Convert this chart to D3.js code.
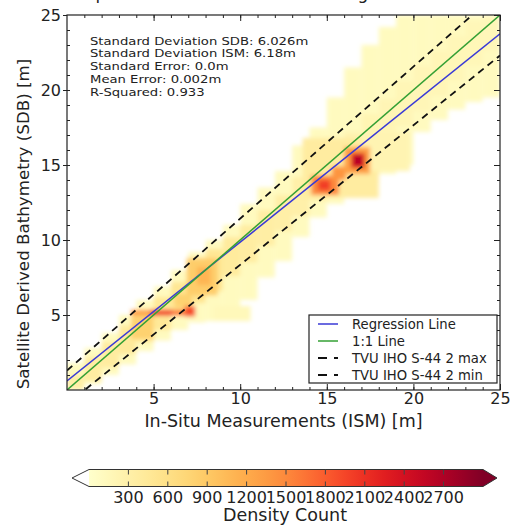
<!DOCTYPE html>
<html>
<head>
<meta charset="utf-8">
<script src="https://cdn.jsdelivr.net/npm/d3@7"></script>
<style>
  body { margin: 0; background: #fff; }
  text { font-family: "DejaVu Sans", sans-serif; fill: #222; }
</style>
</head>
<body>
<div id="chart"></div>
<script>
// ---- data ----
// 2D histogram, 1 m columns: pale envelope and the denser core band
const colX = [0, 1, 2, 3, 4, 5, 6, 7, 8, 9, 10, 11, 12, 13, 14, 15, 16, 17, 18, 19, 20, 21, 22, 23, 24];
const paleLo = [0, 0.4, 1.0, 1.7, 2.6, 3.3, 4.0, 4.5, 4.6, 4.6, 6.0, 7.5, 8.6, 10.2, 11.5, 12.4, 13.0, 13.8, 14.4, 15.0, 17.2, 18.0, 18.7, 19.2, 19.5];
const paleHi = [1.8, 2.8, 3.8, 5.0, 6.0, 6.9, 8.0, 9.2, 10.0, 11.0, 12.4, 13.5, 14.6, 16.3, 17.5, 19.5, 21.5, 23.0, 24.2, 25, 25, 25, 25, 25, 25];
const paleCount = [110, 110, 110, 110, 110, 110, 110, 110, 110, 110, 110, 110, 110, 110, 110, 110, 110, 110, 110, 110, 110, 110, 110, 110, 110];
const midLo = [0, 0.6, 1.5, 2.4, 3.2, 4.0, 5.0, 5.8, 6.6, 7.6, 8.5, 9.6, 10.6, 11.6, 12.6, 13.4, 14.2, 15.2, 16.4, 17.6, 18.6, 19.6, 20.6, 21.6, 22.6];
const midHi = [1.0, 2.2, 3.2, 4.3, 5.2, 6.2, 7.2, 8.4, 9.4, 10.2, 11.0, 12.0, 13.0, 14.2, 15.2, 16.4, 17.2, 18.4, 19.4, 20.6, 21.6, 22.6, 23.6, 24.6, 25];
const midCount = [330, 360, 380, 420, 460, 450, 480, 520, 480, 400, 360, 340, 320, 300, 290, 270, 240, 210, 200, 190, 180, 180, 170, 170, 160];

// hot spots: [x0, x1, y0, y1] in metres and their counts
const spotX0 = [13.6, 17.0, 8.5, 3.7, 6.9, 7.5, 6.2, 3.7, 4.8, 6.1, 6.8, 14.1, 14.5, 15.3, 16.0, 16.4, 16.6];
const spotX1 = [18.0, 19.8, 10.6, 5.0, 8.7, 8.3, 7.2, 4.8, 6.1, 6.8, 7.4, 15.7, 15.2, 16.1, 17.5, 17.2, 17.0];
const spotY0 = [12.8, 14.6, 4.6, 3.4, 6.3, 7.0, 5.5, 4.95, 4.95, 4.95, 4.9, 13.0, 13.3, 14.0, 14.4, 14.8, 15.0];
const spotY1 = [16.8, 17.2, 5.6, 4.9, 8.8, 8.2, 6.4, 5.35, 5.35, 5.35, 5.6, 14.3, 14.0, 14.9, 16.2, 15.8, 15.6];
const spotCount = [380, 220, 150, 800, 850, 1100, 800, 1300, 2000, 1600, 1900, 1500, 2000, 1400, 1300, 2300, 2700];

// reference lines, two points each [x, y]
const lineNames = ["Regression Line", "1:1 Line", "TVU IHO S-44 2 max", "TVU IHO S-44 2 min"];
const lineStart = [[0, 0.6], [0, 0], [0, 1.3], [0, -0.95]];
const lineEnd = [[25, 23.75], [25, 25], [23.4, 25], [25, 22.3]];

const statLines = [
  "Standard Deviation SDB: 6.026m",
  "Standard Deviation ISM: 6.18m",
  "Standard Error: 0.0m",
  "Mean Error: 0.002m",
  "R-Squared: 0.933"
];

const axisTicks = [5, 10, 15, 20, 25];
const cbTicks = [300, 600, 900, 1200, 1500, 1800, 2100, 2400, 2700];
const cbMax = 3000;

// ---- layout ----
const width = 510, height = 530;
const plot = { left: 67, right: 500, top: 15, bottom: 390 };
const cb = { left: 89, right: 483, top: 469.5, bottom: 486.5 };

const svg = d3.select("#chart").append("svg")
  .attr("width", width)
  .attr("height", height);

const x = d3.scaleLinear().domain([0, 25]).range([plot.left, plot.right]);
const y = d3.scaleLinear().domain([0, 25]).range([plot.bottom, plot.top]);
const color = d3.scaleSequential(d3.interpolateYlOrRd).domain([0, cbMax]);

const defs = svg.append("defs");
defs.append("clipPath").attr("id", "plotClip")
  .append("rect")
  .attr("x", plot.left).attr("y", plot.top)
  .attr("width", plot.right - plot.left)
  .attr("height", plot.bottom - plot.top);
defs.append("filter").attr("id", "soft")
  .attr("x", "-5%").attr("y", "-5%").attr("width", "110%").attr("height", "110%")
  .append("feGaussianBlur").attr("stdDeviation", 2.3);

// cut-off title: only its descenders show at the top edge
svg.append("text")
  .attr("x", 72).attr("y", -1.5)
  .style("font-size", "17px")
  .text("Depth Estimates at Measured Height");

// ---- density ----
const dens = svg.append("g").attr("clip-path", "url(#plotClip)")
  .append("g").attr("filter", "url(#soft)");

const cells = [];
colX.forEach((c, i) => cells.push({ x0: c, x1: c + 1, y0: paleLo[i], y1: paleHi[i], n: paleCount[i] }));
colX.forEach((c, i) => cells.push({ x0: c, x1: c + 1, y0: midLo[i], y1: midHi[i], n: midCount[i] }));
spotX0.forEach((v, i) => cells.push({ x0: v, x1: spotX1[i], y0: spotY0[i], y1: spotY1[i], n: spotCount[i] }));

dens.selectAll("rect")
  .data(cells)
  .join("rect")
  .attr("x", d => x(d.x0))
  .attr("y", d => y(d.y1))
  .attr("width", d => x(d.x1) - x(d.x0))
  .attr("height", d => y(d.y0) - y(d.y1))
  .attr("fill", d => color(d.n));

// ---- lines ----
const lineColor = ["#3a3ad6", "#35a035", "#111", "#111"];
const lineDash = [null, null, "7,5", "7,5"];
const lineWidth = [1.5, 1.5, 1.8, 1.8];

svg.append("g").attr("clip-path", "url(#plotClip)")
  .selectAll("line")
  .data(lineNames)
  .join("line")
  .attr("x1", (d, i) => x(lineStart[i][0]))
  .attr("y1", (d, i) => y(lineStart[i][1]))
  .attr("x2", (d, i) => x(lineEnd[i][0]))
  .attr("y2", (d, i) => y(lineEnd[i][1]))
  .attr("stroke", (d, i) => lineColor[i])
  .attr("stroke-width", (d, i) => lineWidth[i])
  .attr("stroke-dasharray", (d, i) => lineDash[i]);

// ---- axes (matplotlib style: inward ticks on all four sides) ----
const minor = x.ticks(25).filter(v => v > 0 && v < 25);

function styleAxis(g) {
  g.select(".domain").remove();
  g.selectAll(".tick line").attr("stroke", "#222");
  g.selectAll(".tick text").style("font-size", "16px").attr("fill", "#222");
}

svg.append("g").attr("transform", `translate(0,${plot.bottom})`)
  .call(d3.axisBottom(x).tickValues(axisTicks).tickSize(-6).tickPadding(3))
  .call(styleAxis);
svg.append("g").attr("transform", `translate(0,${plot.bottom})`)
  .call(d3.axisBottom(x).tickValues(minor).tickSize(-3).tickFormat(""))
  .call(styleAxis);
svg.append("g").attr("transform", `translate(0,${plot.top})`)
  .call(d3.axisTop(x).tickValues(axisTicks).tickSize(-6).tickFormat(""))
  .call(styleAxis);
svg.append("g").attr("transform", `translate(0,${plot.top})`)
  .call(d3.axisTop(x).tickValues(minor).tickSize(-3).tickFormat(""))
  .call(styleAxis);

svg.append("g").attr("transform", `translate(${plot.left},0)`)
  .call(d3.axisLeft(y).tickValues(axisTicks).tickSize(4).tickPadding(2))
  .call(styleAxis);
svg.append("g").attr("transform", `translate(${plot.left},0)`)
  .call(d3.axisLeft(y).tickValues(minor).tickSize(-3).tickFormat(""))
  .call(styleAxis);
svg.append("g").attr("transform", `translate(${plot.right},0)`)
  .call(d3.axisRight(y).tickValues(axisTicks).tickSize(-6).tickFormat(""))
  .call(styleAxis);
svg.append("g").attr("transform", `translate(${plot.right},0)`)
  .call(d3.axisRight(y).tickValues(minor).tickSize(-3).tickFormat(""))
  .call(styleAxis);

svg.append("rect")
  .attr("x", plot.left).attr("y", plot.top)
  .attr("width", plot.right - plot.left)
  .attr("height", plot.bottom - plot.top)
  .attr("fill", "none")
  .attr("stroke", "#222")
  .attr("stroke-width", 1.2);

// axis titles
svg.append("text")
  .attr("x", (plot.left + plot.right) / 2).attr("y", 426.5)
  .attr("text-anchor", "middle")
  .style("font-size", "17.5px")
  .text("In-Situ Measurements (ISM) [m]");

svg.append("text")
  .attr("transform", "translate(29,224) rotate(-90)")
  .attr("text-anchor", "middle")
  .style("font-size", "16.7px")
  .text("Satellite Derived Bathymetry (SDB) [m]");

// statistics block (the source text is slightly squashed vertically)
svg.append("g")
  .attr("transform", "translate(90,44.5) scale(1,0.86)")
  .selectAll("text")
  .data(statLines)
  .join("text")
  .attr("x", 0)
  .attr("y", (d, i) => i * 15)
  .style("font-size", "13.2px")
  .text(d => d);

// ---- legend ----
const legend = svg.append("g").attr("transform", "translate(309,315)");
legend.append("rect")
  .attr("width", 188).attr("height", 68)
  .attr("fill", "#fff").attr("stroke", "#222").attr("stroke-width", 1.2);

const entries = legend.selectAll("g.entry")
  .data(lineNames)
  .join("g")
  .attr("class", "entry")
  .attr("transform", (d, i) => `translate(0,${9 + i * 17})`);
entries.append("line")
  .attr("x1", 9).attr("x2", 29)
  .attr("stroke", (d, i) => lineColor[i])
  .attr("stroke-width", (d, i) => lineWidth[i])
  .attr("stroke-dasharray", (d, i) => lineDash[i] ? "9,7" : null);
entries.append("text")
  .attr("x", 43).attr("dy", "0.35em")
  .style("font-size", "13.2px")
  .text(d => d);

// ---- colorbar ----
const cbScale = d3.scaleLinear().domain([0, cbMax]).range([cb.left, cb.right]);
const grad = defs.append("linearGradient").attr("id", "cbGrad");
grad.selectAll("stop")
  .data(d3.range(0, 1.0001, 0.05))
  .join("stop")
  .attr("offset", d => `${d * 100}%`)
  .attr("stop-color", d => d3.interpolateYlOrRd(d));

const cbMid = (cb.top + cb.bottom) / 2;
svg.append("rect")
  .attr("x", cb.left).attr("y", cb.top)
  .attr("width", cb.right - cb.left).attr("height", cb.bottom - cb.top)
  .attr("fill", "url(#cbGrad)");
svg.append("polygon")
  .attr("points", `${cb.right},${cb.top} ${cb.right + 14},${cbMid} ${cb.right},${cb.bottom}`)
  .attr("fill", d3.interpolateYlOrRd(1));
svg.append("polygon")
  .attr("points", `${cb.left},${cb.top} ${cb.left - 17},${cbMid} ${cb.left},${cb.bottom}`)
  .attr("fill", "#fff");
svg.append("polygon")
  .attr("points", `${cb.left},${cb.top} ${cb.right},${cb.top} ${cb.right + 14},${cbMid} ${cb.right},${cb.bottom} ${cb.left},${cb.bottom} ${cb.left - 17},${cbMid}`)
  .attr("fill", "none").attr("stroke", "#333").attr("stroke-width", 1);

const cbTickG = svg.append("g").selectAll("g")
  .data(cbTicks)
  .join("g")
  .attr("transform", d => `translate(${cbScale(d)},0)`);
cbTickG.append("line")
  .attr("y1", cb.top).attr("y2", cb.top + 5)
  .attr("stroke", "#444");
cbTickG.append("line")
  .attr("y1", cb.bottom - 5).attr("y2", cb.bottom)
  .attr("stroke", "#444");
cbTickG.append("text")
  .attr("y", 503)
  .attr("text-anchor", "middle")
  .style("font-size", "16px")
  .text(d => d);

svg.append("text")
  .attr("x", 285).attr("y", 521)
  .attr("text-anchor", "middle")
  .style("font-size", "17.5px")
  .text("Density Count");
</script>
</body>
</html>
